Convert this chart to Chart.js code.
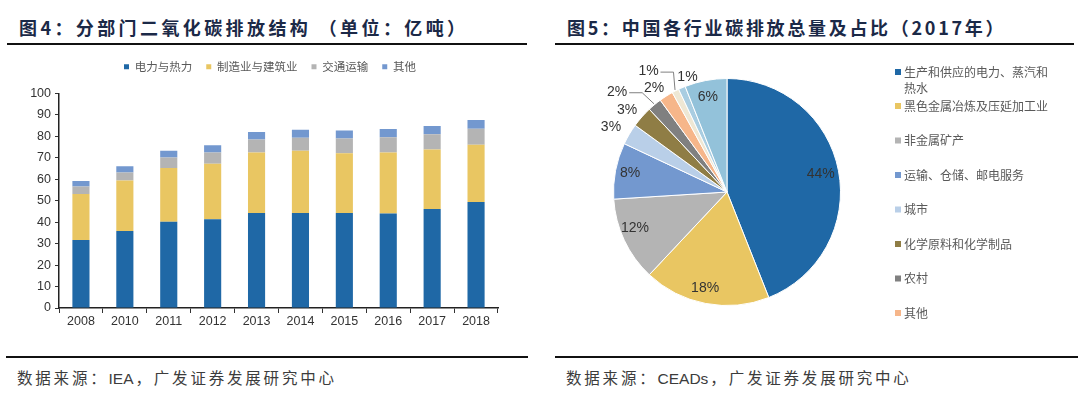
<!DOCTYPE html>
<html>
<head>
<meta charset="utf-8">
<script src="https://cdn.jsdelivr.net/npm/chart.js"></script>
<style>
  html, body { margin: 0; padding: 0; background: #fff; }
  body { width: 1080px; height: 396px; position: relative; overflow: hidden; font-family: "Noto Sans CJK SC", sans-serif; }
  .title { position: absolute; top: 14px; font-size: 18px; font-weight: bold; color: #1b2947; letter-spacing: 3px; line-height: 26px; white-space: nowrap; }
  .rule { position: absolute; height: 2px; background: #111; }
  .source { position: absolute; top: 365px; font-size: 15.5px; color: #3c3c3c; letter-spacing: 2.8px; line-height: 24px; white-space: nowrap; }
  .source span { letter-spacing: 0; font-family: "Liberation Sans", sans-serif; margin-right: 2px; }
  #barBox { position: absolute; left: 0; top: 50px; width: 530px; height: 290px; }
  #pieBox { position: absolute; left: 560px; top: 50px; width: 520px; height: 300px; }
</style>
</head>
<body>
<div class="title" style="left:19px; letter-spacing:3.4px">图4：分部门二氧化碳排放结构 （单位：亿吨）</div>
<div class="rule" style="left:7px; width:520px; top:43px"></div>
<div class="title" style="left:567px; letter-spacing:2.7px">图5：中国各行业碳排放总量及占比（2017年）</div>
<div class="rule" style="left:555px; width:519px; top:43px"></div>

<div id="barBox"><canvas id="barChart"></canvas></div>
<div id="pieBox"><canvas id="pieChart"></canvas></div>

<div class="rule" style="left:6px; width:522px; top:356px"></div>
<div class="rule" style="left:555px; width:523px; top:356px"></div>
<div class="source" style="left:17px">数据来源：<span>IEA</span>，广发证券发展研究中心</div>
<div class="source" style="left:566px">数据来源：<span>CEADs</span>，广发证券发展研究中心</div>

<script>
// 图4 数据（亿吨）
const years = ['2008', '2010', '2011', '2012', '2013', '2014', '2015', '2016', '2017', '2018'];
const powerHeat = [31.7, 35.9, 40.2, 41.4, 44.3, 44.3, 44.3, 44.0, 46.2, 49.4];
const manufacturing = [21.5, 23.5, 25.1, 25.8, 28.2, 29.0, 27.8, 28.5, 27.7, 26.7];
const transport = [3.5, 3.8, 4.9, 5.3, 6.0, 6.1, 6.9, 7.1, 7.1, 7.5];
const others = [2.5, 2.9, 3.1, 3.4, 3.6, 3.7, 3.7, 3.8, 3.8, 4.0];
const yTicks = [0, 10, 20, 30, 40, 50, 60, 70, 80, 90, 100];

// 图5 数据（%）
const sectors = ['生产和供应的电力、蒸汽和热水', '黑色金属冶炼及压延加工业', '非金属矿产', '运输、仓储、邮电服务',
    '城市', '化学原料和化学制品', '农村', '其他', '其余行业一', '其余行业二', '其余行业三'];
const shares = [44, 18, 12, 8, 3, 3, 2, 2, 1, 1, 6];
const legendCount = 8;

const BLUE = '#1f68a6';
const YELLOW = '#e9c662';
const GRAY = '#b4b4b4';
const LBLUE = '#7398cf';
const sliceColors = [BLUE, YELLOW, GRAY, LBLUE, '#b9cfe8', '#8f7d45', '#808080', '#f6b68a', '#eee7d4', '#a9cde1', '#93c2da'];

// 标签样式（半径系数、角度微调、引线）
const labelRadius = [0.84, 0.87, 0.87, 0.87, 1.17, 1.14, 1.31, 1.12, 1.27, 1.07, 0.85];
const labelShift = [0, 2, 4, 0, -1.5, -2, -8, -2.6, -6, 4.4, -0.6];
const labelLeader = [false, false, false, false, false, false, true, false, true, false, false];

// 图例位置微调：加高、右移、上移
const legendSpacer = {
    id: 'legendSpacer',
    beforeInit(chart) {
        const fit = chart.legend.fit;
        chart.legend.fit = function () {
            fit.bind(chart.legend)();
            this.height += 8;
        };
    },
    afterLayout(chart) {
        const lg = chart.legend;
        lg.left += 21;
        lg.right += 21;
        lg.top -= 3;
        lg.bottom -= 3;
    }
};

new Chart(document.getElementById('barChart'), {
    type: 'bar',
    data: {
        labels: years,
        datasets: [
            { label: '电力与热力', data: powerHeat, backgroundColor: BLUE },
            { label: '制造业与建筑业', data: manufacturing, backgroundColor: YELLOW },
            { label: '交通运输', data: transport, backgroundColor: GRAY },
            { label: '其他', data: others, backgroundColor: LBLUE }
        ]
    },
    options: {
        responsive: true,
        maintainAspectRatio: false,
        animation: false,
        layout: { padding: { left: 0, right: 32, top: 0, bottom: 0 } },
        datasets: { bar: { categoryPercentage: 1, barPercentage: 0.39 } },
        scales: {
            x: {
                stacked: true,
                grid: { offset: true, drawOnChartArea: false, drawTicks: true, tickLength: 5, color: '#333' },
                border: { color: '#222', width: 1.5 },
                ticks: { color: '#333', padding: 1, font: { family: 'Liberation Sans', size: 12.5 } },
                afterFit(scale) { scale.height = 32; }
            },
            y: {
                stacked: true,
                min: 0,
                max: 100,
                afterBuildTicks(scale) { scale.ticks = yTicks.map(v => ({ value: v })); },
                grid: { drawOnChartArea: false, drawTicks: true, tickLength: 4, color: '#333' },
                border: { color: '#222', width: 1.5 },
                ticks: { color: '#333', padding: 4, font: { family: 'Liberation Sans', size: 12.5 } },
                afterFit(scale) { scale.width = 59; }
            }
        },
        plugins: {
            legend: {
                position: 'top',
                labels: {
                    boxWidth: 5,
                    boxHeight: 5,
                    padding: 14,
                    color: '#595959',
                    font: { family: 'Noto Sans CJK SC', size: 11.5 }
                }
            },
            tooltip: { enabled: false }
        }
    },
    plugins: [legendSpacer]
});

// 饼图标签 + 右侧图例
const pieDecor = {
    id: 'pieDecor',
    afterDatasetsDraw(chart) {
        const ctx = chart.ctx;
        const arcs = chart.getDatasetMeta(0).data;
        ctx.save();
        ctx.font = '14px "Liberation Sans"';
        ctx.fillStyle = '#333';
        ctx.textAlign = 'center';
        ctx.textBaseline = 'middle';
        arcs.forEach((arc, i) => {
            const p = arc.getProps(['x', 'y', 'startAngle', 'endAngle', 'outerRadius'], true);
            const mid = (p.startAngle + p.endAngle) / 2;
            const a = mid + labelShift[i] * Math.PI / 180;
            const r = p.outerRadius * labelRadius[i];
            const lx = p.x + Math.cos(a) * r;
            const ly = p.y + Math.sin(a) * r;
            ctx.fillText(shares[i] + '%', lx, ly);
            if (labelLeader[i]) {
                const ex = p.x + Math.cos(mid) * (p.outerRadius + 1);
                const ey = p.y + Math.sin(mid) * (p.outerRadius + 1);
                ctx.strokeStyle = '#808080';
                ctx.lineWidth = 1;
                ctx.beginPath();
                ctx.moveTo(lx + 12, ly + 1);
                ctx.lineTo(lx + 25, ly + 1);
                ctx.lineTo(ex, ey);
                ctx.stroke();
            }
        });

        // 图例
        ctx.font = '12px "Noto Sans CJK SC"';
        ctx.textAlign = 'left';
        const legendX = 335;
        for (let i = 0; i < legendCount; i++) {
            const y = i === 0 ? 22 : 56 + (i - 1) * 34.5;
            ctx.fillStyle = sliceColors[i];
            ctx.fillRect(legendX, y - 3, 6, 6);
            ctx.fillStyle = '#595959';
            const text = sectors[i];
            if (i === 0) {
                ctx.fillText(text.slice(0, 12), legendX + 9, y);
                ctx.fillText(text.slice(12), legendX + 9, y + 16);
            } else {
                ctx.fillText(text, legendX + 9, y);
            }
        }
        ctx.restore();
    }
};

new Chart(document.getElementById('pieChart'), {
    type: 'pie',
    data: {
        labels: sectors,
        datasets: [{
            data: shares,
            backgroundColor: sliceColors,
            borderColor: '#fff',
            borderWidth: 1
        }]
    },
    options: {
        responsive: true,
        maintainAspectRatio: false,
        animation: false,
        layout: { padding: { left: 53, right: 239, top: 28, bottom: 44 } },
        plugins: {
            legend: { display: false },
            tooltip: { enabled: false }
        }
    },
    plugins: [pieDecor]
});
</script>
</body>
</html>
